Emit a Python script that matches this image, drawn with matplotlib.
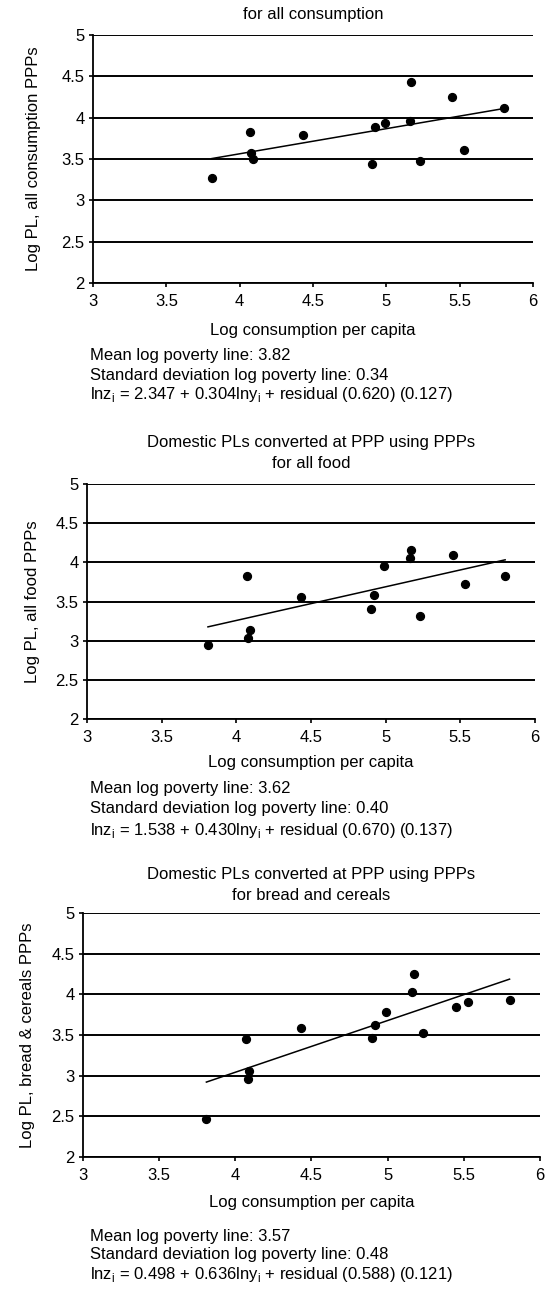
import numpy as np
import matplotlib
matplotlib.use('Agg')
import matplotlib.pyplot as plt

plt.rcParams['font.family'] = ['Liberation Sans', 'DejaVu Sans']
plt.rcParams['mathtext.fontset'] = 'custom'
plt.rcParams['mathtext.rm'] = 'Liberation Sans'
plt.rcParams['font.size'] = 12

# data
log_cons = [3.81, 4.07, 4.08, 4.09, 4.43, 4.90, 4.92, 4.99, 5.16, 5.17, 5.23, 5.45, 5.53, 5.80]
pl_all_cons = [3.27, 3.83, 3.57, 3.50, 3.79, 3.44, 3.885, 3.93, 3.96, 4.43, 3.48, 4.25, 3.61, 4.12]
pl_all_food = [2.94, 3.83, 3.04, 3.13, 3.555, 3.41, 3.585, 3.95, 4.05, 4.16, 3.32, 4.09, 3.725, 3.82]
pl_bread = [2.47, 3.45, 2.96, 3.06, 3.59, 3.46, 3.62, 3.78, 4.03, 4.25, 3.53, 3.85, 3.91, 3.93]

intercepts = [2.347, 1.538, 0.498]
slopes = [0.304, 0.430, 0.636]
se_int = ['0.620', '0.670', '0.588']
se_slope = ['0.127', '0.137', '0.121']
mean_pl = ['3.82', '3.62', '3.57']
sd_pl = ['0.34', '0.40', '0.48']

titles = ['for all consumption',
          'Domestic PLs converted at PPP using PPPs\nfor all food',
          'Domestic PLs converted at PPP using PPPs\nfor bread and cereals']
ylabels = ['Log PL, all consumption PPPs', 'Log PL, all food PPPs',
           'Log PL, bread & cereals PPPs']
xlabel = 'Log consumption per capita'
xticks = [3, 3.5, 4, 4.5, 5, 5.5, 6]
yticks = [2, 2.5, 3, 3.5, 4, 4.5, 5]
xticklabels = ['3', '3.5', '4', '4.5', '5', '5.5', '6']
yticklabels = ['2', '2.5', '3', '3.5', '4', '4.5', '5']

W, H = 545, 1290
fig = plt.figure(figsize=(W / 100, H / 100), dpi=100)
fig.patch.set_facecolor('white')

def fx(x):
    return x / W

def fy(y):
    return 1 - y / H

# layout in pixels: (left, top, right, bottom), title lines, xlabel, stats lines, ylabel x
boxes = [(93, 35, 533, 283), (87, 484, 535, 719), (83, 913, 540, 1157)]
title_y = [15, 453, 885]
xlab_y = [330, 763, 1202]
stats_y = [(355, 375, 395), (789, 809, 830), (1236, 1255, 1275)]
ylab_x = [34, 33, 28]

series = [pl_all_cons, pl_all_food, pl_bread]

for i in range(3):
    l, t, r, b = boxes[i]
    ax = fig.add_axes([fx(l), fy(b), fx(r - l), (b - t) / H])
    ax.set_xlim(3, 6)
    ax.set_ylim(2, 5)
    ax.set_xticks(xticks)
    ax.set_xticklabels(xticklabels)
    ax.set_yticks(yticks)
    ax.set_yticklabels(yticklabels)
    for s in ['top', 'right']:
        ax.spines[s].set_visible(False)
    ax.spines['left'].set_linewidth(1.3)
    ax.spines['bottom'].set_linewidth(1.3)
    ax.tick_params(axis='both', direction='out', length=3, width=1.2, labelsize=12)
    ax.tick_params(axis='x', pad=5)
    ax.tick_params(axis='y', pad=3)
    ax.yaxis.grid(True, color='k', lw=1.4)
    ax.set_axisbelow(True)

    ax.scatter(log_cons, series[i], s=32, color='k', zorder=3)
    xs = np.array([min(log_cons), max(log_cons)])
    ax.plot(xs, intercepts[i] + slopes[i] * xs, color='k', lw=1.1, zorder=2)

    cx = (l + r) / 2
    tlines = titles[i].split('\n')
    for k, line in enumerate(tlines):
        fig.text(fx(cx), fy(title_y[i] - 10 * (len(tlines) - 1) + 20 * k), line,
                 ha='center', va='center', fontsize=12)
    fig.text(fx(cx), fy(xlab_y[i]), xlabel, ha='center', va='center', fontsize=12)
    fig.text(fx(ylab_x[i]), fy((t + b) / 2), ylabels[i], rotation=90,
             ha='center', va='center', fontsize=12)

    sy = stats_y[i]
    fig.text(fx(90), fy(sy[0]), 'Mean log poverty line: ' + mean_pl[i],
             ha='left', va='center', fontsize=12)
    fig.text(fx(90), fy(sy[1]), 'Standard deviation log poverty line: ' + sd_pl[i],
             ha='left', va='center', fontsize=12)
    fig.text(fx(90), fy(sy[2]),
             'lnz$_{\\mathregular{i}}$ = %.3f + %.3flny$_{\\mathregular{i}}$ + residual (%s) (%s)'
             % (intercepts[i], slopes[i], se_int[i], se_slope[i]),
             ha='left', va='center', fontsize=12)

fig.savefig('out.png', dpi=100)
